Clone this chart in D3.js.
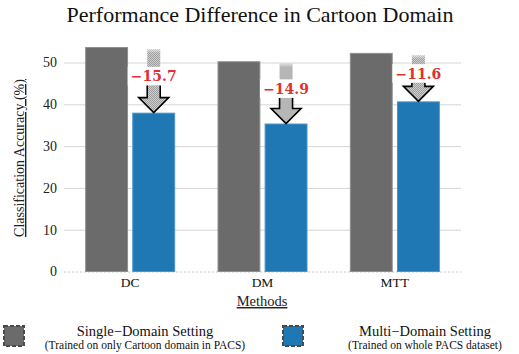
<!DOCTYPE html>
<html>
<head>
<meta charset="utf-8">
<script src="https://cdn.jsdelivr.net/npm/d3@7"></script>
<style>
  body { margin: 0; background: #fff; }
  svg { display: block; }
</style>
</head>
<body>
<svg id="chart" width="519" height="354"></svg>
<script>
// --- data ---
const methods = ["DC", "DM", "MTT"];
const singleDomain = [53.7, 50.3, 52.3];
const multiDomain = [38.0, 35.4, 40.7];
const diffLabels = ["−15.7", "−14.9", "−11.6"];
const yTicks = [0, 10, 20, 30, 40, 50];
const seriesKeys = ["single", "multi"];
const seriesNames = ["Single−Domain Setting", "Multi−Domain Setting"];
const seriesNotes = ["(Trained on only Cartoon domain in PACS)", "(Trained on whole PACS dataset)"];

const colors = { single: "#6a6b6a", multi: "#1f77b4" };
const edges = { single: "#8e8f8e", multi: "#4b93c8" };
const serif = "'Liberation Serif', 'Times New Roman', serif";

const svg = d3.select("#chart");
const defs = svg.append("defs");

// dithered fill used by the drop arrows
const pat = defs.append("pattern").attr("id", "dots")
    .attr("width", 2).attr("height", 2).attr("patternUnits", "userSpaceOnUse");
pat.append("rect").attr("width", 2).attr("height", 2).attr("fill", "#d8d8d8");
pat.append("rect").attr("width", 1).attr("height", 1).attr("fill", "#949494");
pat.append("rect").attr("x", 1).attr("y", 1).attr("width", 1).attr("height", 1).attr("fill", "#949494");

const fade = defs.append("linearGradient").attr("id", "fade")
    .attr("x1", 0).attr("y1", 0).attr("x2", 0).attr("y2", 1);
fade.append("stop").attr("offset", "0%").attr("stop-color", "#fff").attr("stop-opacity", 0.6);
fade.append("stop").attr("offset", "100%").attr("stop-color", "#fff").attr("stop-opacity", 0);

// --- scales ---
const x = d3.scaleBand().domain(methods).range([64, 461]).padding(0);
const xs = d3.scaleBand().domain(seriesKeys).range([-45, 45]).paddingInner(0.09);
const y = d3.scaleLinear().domain([0, 50]).range([271.5, 62.5]);

// title
svg.append("text")
    .attr("x", 260).attr("y", 22)
    .attr("text-anchor", "middle")
    .style("font-family", serif).style("font-size", "22px").style("fill", "#111")
    .text("Performance Difference in Cartoon Domain");

// gridlines + y ticks
const yAxis = d3.axisLeft(y).tickValues(yTicks).tickSize(-(461 - 64)).tickPadding(7);
const gy = svg.append("g").attr("transform", "translate(64,0)").call(yAxis);
gy.select(".domain").remove();
gy.selectAll(".tick line")
    .attr("stroke", d => d === 0 ? "#c8c8c8" : "#d6d6d6")
    .attr("stroke-dasharray", d => d === 0 ? "2,2" : null);
gy.selectAll(".tick text")
    .style("font-family", serif).style("font-size", "14px").style("fill", "#222");

// y axis title
svg.append("text")
    .attr("transform", "translate(24,158) rotate(-90)")
    .attr("text-anchor", "middle")
    .style("font-family", serif).style("font-size", "14px").style("fill", "#222")
    .style("text-decoration", "underline")
    .text("Classification Accuracy (%)");

// bars
const rows = methods.map((m, i) => ({ method: m, single: singleDomain[i], multi: multiDomain[i], label: diffLabels[i] }));
const groups = svg.selectAll(".grp").data(rows).enter().append("g")
    .attr("class", "grp")
    .attr("transform", d => `translate(${x(d.method) + x.bandwidth() / 2},0)`);

groups.selectAll("rect").data(d => seriesKeys.map(k => ({ key: k, value: d[k] }))).enter().append("rect")
    .attr("x", d => xs(d.key) + 0.5)
    .attr("y", d => y(d.value) + 0.5)
    .attr("width", xs.bandwidth() - 1)
    .attr("height", d => y(0) - y(d.value) - 0.5)
    .attr("fill", d => colors[d.key])
    .attr("stroke", d => edges[d.key])
    .attr("stroke-width", 1);

// drop arrows from the single-domain height to the multi-domain height
const shaftW = 13, headW = 30, headH = 15;
groups.each(function (d, i) {
    const g = d3.select(this);
    const cx = xs("multi") + xs.bandwidth() / 2;
    const top = y(d.single) + 2;
    const tip = y(d.multi);
    const base = y((d.single + d.multi) / 2) + 1.5;
    const path = d3.path();
    path.moveTo(cx - shaftW / 2, top);
    path.lineTo(cx + shaftW / 2, top);
    path.lineTo(cx + shaftW / 2, tip - headH);
    path.lineTo(cx + headW / 2, tip - headH);
    path.lineTo(cx, tip);
    path.lineTo(cx - headW / 2, tip - headH);
    path.lineTo(cx - shaftW / 2, tip - headH);
    path.closePath();

    const clipId = "clip" + i;
    defs.append("clipPath").attr("id", clipId).append("rect")
        .attr("x", cx - 30).attr("y", base + 4).attr("width", 60).attr("height", tip - base);

    g.append("path").attr("d", path.toString()).attr("fill", "url(#dots)");
    g.append("path").attr("d", path.toString())
        .attr("fill", "none").attr("stroke", "#000").attr("stroke-width", 1.6)
        .attr("stroke-linejoin", "miter")
        .attr("clip-path", `url(#${clipId})`);
    g.append("rect")
        .attr("x", cx - shaftW / 2).attr("y", top)
        .attr("width", shaftW).attr("height", 4)
        .attr("fill", "url(#fade)");
    g.append("rect")
        .attr("x", cx - 26).attr("y", base - 14.5)
        .attr("width", 52).attr("height", 18.5)
        .attr("fill", "#fff");
    g.append("text")
        .attr("x", cx).attr("y", base)
        .attr("text-anchor", "middle")
        .style("font-family", "'DejaVu Serif', serif").style("font-weight", "bold")
        .style("font-size", "14px").style("fill", "#e03131")
        .text(d.label);
});

// x axis labels
const xAxis = d3.axisBottom(x).tickSize(0).tickPadding(6);
const gx = svg.append("g").attr("transform", `translate(0,${y(0)})`).call(xAxis);
gx.select(".domain").remove();
gx.selectAll(".tick text")
    .style("font-family", serif).style("font-size", "13.5px").style("fill", "#111");

svg.append("text")
    .attr("x", 262).attr("y", 306)
    .attr("text-anchor", "middle")
    .style("font-family", serif).style("font-size", "14.5px").style("fill", "#222")
    .style("text-decoration", "underline")
    .text("Methods");

// legend
const legendX = [3, 282];
const legendTextX = [145, 425];
seriesKeys.forEach((k, i) => {
    const lg = svg.append("g");
    lg.append("rect")
        .attr("x", legendX[i] + 1).attr("y", 326)
        .attr("width", 20).attr("height", 20)
        .attr("fill", colors[k])
        .attr("stroke", "#4a4a4a").attr("stroke-width", 2)
        .attr("stroke-dasharray", "4,2");
    lg.append("text")
        .attr("x", legendTextX[i]).attr("y", 336)
        .attr("text-anchor", "middle")
        .style("font-family", serif).style("font-size", "14.5px").style("fill", "#111")
        .text(seriesNames[i]);
    lg.append("text")
        .attr("x", legendTextX[i]).attr("y", 349)
        .attr("text-anchor", "middle")
        .style("font-family", serif).style("font-size", "11.5px").style("fill", "#111")
        .text(seriesNotes[i]);
});
</script>
</body>
</html>
